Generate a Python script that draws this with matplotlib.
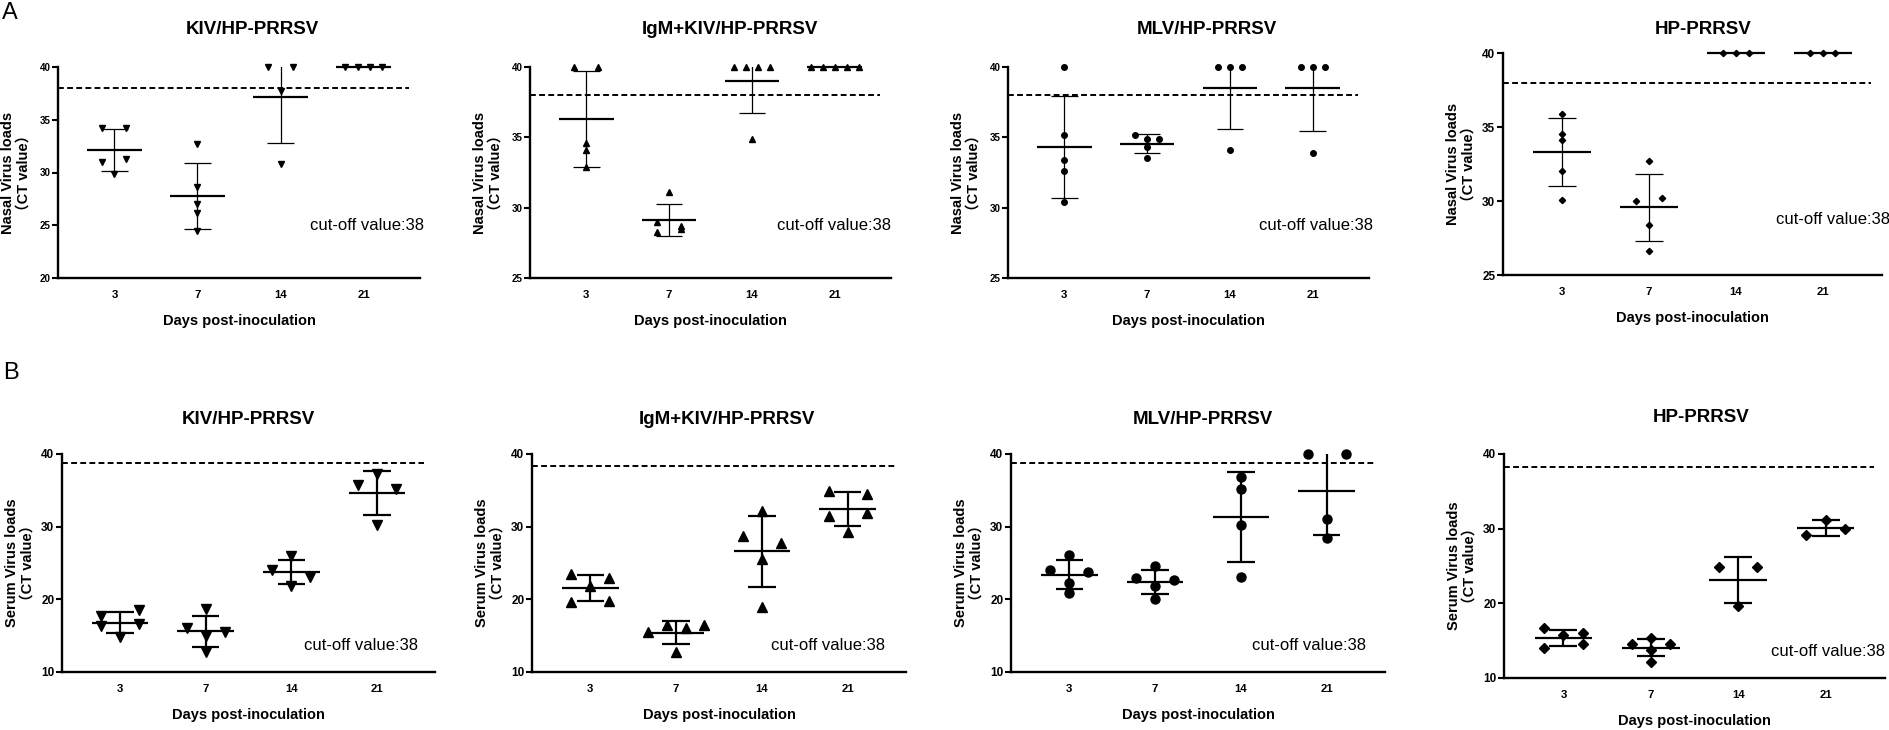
import numpy as np
import matplotlib
matplotlib.use("Agg")
import matplotlib.pyplot as plt

plt.rcParams['font.family'] = ['Liberation Sans', 'Noto Sans CJK SC', 'DejaVu Sans']

# ---- data (CT values) ----
days = ['3', '7', '14', '21']
groups = ['KIV/HP-PRRSV', 'IgM+KIV/HP-PRRSV', 'MLV/HP-PRRSV', 'HP-PRRSV']

# nasal swabs
nasal_kiv = [[34.2, 34.2, 31.0, 31.3, 29.9], [32.7, 28.6, 27.0, 26.2, 24.5],
             [40, 40, 37.7, 30.8], [40, 40, 40, 40]]
nasal_igm = [[40, 40, 34.6, 34.1, 32.9], [31.1, 29.0, 28.7, 28.3, 28.5],
             [40, 40, 40, 40, 34.9], [40, 40, 40, 40, 40]]
nasal_mlv = [[40, 35.2, 33.4, 32.6, 30.4], [35.2, 34.9, 34.9, 34.3, 33.5],
             [40, 40, 40, 34.1], [40, 40, 40, 33.9]]
nasal_hp = [[35.9, 34.5, 34.1, 32.0, 30.1], [32.7, 30.0, 30.2, 28.4, 26.6],
            [40, 40, 40], [40, 40, 40]]

# serum
serum_kiv = [[17.7, 18.6, 16.3, 16.6, 14.8], [18.7, 16.0, 15.0, 15.5, 12.7],
             [25.9, 24.1, 21.9, 23.1], [37.2, 35.7, 35.2, 30.2]]
serum_igm = [[23.5, 22.9, 21.9, 19.6, 19.8], [15.5, 16.4, 16.0, 16.4, 12.7],
             [32.1, 28.7, 27.7, 25.6, 19.0], [34.9, 34.5, 31.5, 31.9, 29.3]]
serum_mlv = [[24.0, 26.1, 23.7, 22.3, 20.9], [22.9, 24.6, 21.9, 22.7, 20.0],
             [36.9, 35.2, 30.2, 23.1], [40, 40, 31.1, 28.4]]
serum_hp = [[16.7, 15.7, 16.0, 14.0, 14.6], [14.5, 15.3, 14.5, 13.8, 12.2],
            [24.9, 24.9, 19.6], [31.2, 29.1, 30.0]]

cutoff_nasal = [38, 38, 38, 38]
cutoff_serum = [38.7, 38.3, 38.7, 38.2]

# ---- layout (pixels of the 1889x730 figure) ----
W, H = 1889, 730
boxes = [(58, 420, 67, 278), (530, 891, 67, 278), (1008, 1369, 67, 278), (1503, 1882, 53, 275),
         (62, 435, 454, 672), (532, 906, 454, 672), (1011, 1385, 454, 672), (1504, 1885, 454, 678)]
title_pos = [(252, 30), (730, 30), (1207, 30), (1703, 30),
             (248, 420), (727, 420), (1203, 420), (1701, 418)]
note_x = [1.01, 1.0, 1.01, 1.02, 0.955, 0.945, 0.95, 1.0]
markers = ['v', '^', 'o', 'D']


def spread(vals, thr, step):
    # GraphPad-like horizontal scatter of points with similar values
    vals = np.asarray(vals, float)
    order = np.argsort(-vals, kind='stable')
    off = np.zeros(len(vals))
    i = 0
    while i < len(order):
        row = [order[i]]
        j = i + 1
        while j < len(order) and vals[order[i]] - vals[order[j]] < thr:
            row.append(order[j])
            j += 1
        row.sort()
        n = len(row)
        pos = [-1, 1] if n == 2 else np.arange(n) - (n - 1) / 2
        for k, p in zip(row, pos):
            off[k] = p * step
        i = j
    return off


fig = plt.figure(figsize=(W / 100, H / 100), dpi=100)

panels = [nasal_kiv, nasal_igm, nasal_mlv, nasal_hp, serum_kiv, serum_igm, serum_mlv, serum_hp]
xlim = (-0.68, 3.68)

for p, data in enumerate(panels):
    serum = p >= 4
    l, r, t, b = boxes[p]
    ax = fig.add_axes([l / W, 1 - b / H, (r - l) / W, (b - t) / H])
    if serum:
        ylo, yhi, ystep = 10, 40, 10
        ms, mpx, step, lw_err, ylab = 6.5, 8.5, 0.22, 1.6, 'Serum Virus loads'
        cut = cutoff_serum[p - 4]
    else:
        ylo, yhi, ystep = (20 if p == 0 else 25), 40, 5
        ms, mpx, step, lw_err, ylab = 4.0, 5.0, 0.145, 0.9, 'Nasal Virus loads'
        cut = cutoff_nasal[p]
    thr = mpx * (yhi - ylo) / (b - t)
    mk = markers[p % 4]
    msize = ms * 0.8 if mk == 'D' else ms

    for i, vals in enumerate(data):
        v = np.array(vals, float)
        x = i + spread(v, thr, step)
        ax.plot(x, v, linestyle='none', marker=mk, ms=msize, color='black', clip_on=False, zorder=3)
        m = v.mean()
        sd = v.std(ddof=1) if len(v) > 1 else 0
        ax.hlines(m, i - 0.33, i + 0.33, color='black', lw=1.6, clip_on=False, zorder=2)
        if sd > 0:
            ax.vlines(i, m - sd, m + sd, color='black', lw=lw_err, zorder=2)
            ax.hlines([m - sd, m + sd], i - 0.16, i + 0.16, color='black', lw=lw_err, zorder=2)

    ax.axhline(cut, xmin=0, xmax=0.97, color='black', lw=1.4, linestyle=(0, (3, 1.7)), zorder=1)

    ax.set_xlim(*xlim)
    ax.set_ylim(ylo, yhi)
    ax.set_xticks(range(4))
    ax.set_xticklabels(days, fontweight='bold', fontsize=8.2)
    ax.set_yticks(np.arange(ylo, yhi + 1, ystep))
    ax.set_yticklabels([str(int(y)) for y in np.arange(ylo, yhi + 1, ystep)],
                       fontweight='bold', fontsize=(8.5 if p >= 3 else 7))
    ax.tick_params(axis='x', length=0, pad=9)
    ax.tick_params(axis='y', length=4, width=1.5, pad=1.5, direction='out')
    for s in ['top', 'right']:
        ax.spines[s].set_visible(False)
    for s in ['left', 'bottom']:
        ax.spines[s].set_linewidth(1.7)

    ax.text(note_x[p], 0.12 if serum else 0.25, 'cut-off value:38', transform=ax.transAxes,
            ha='right', va='center', fontsize=12, clip_on=False)

    tx, ty = title_pos[p]
    fig.text(tx / W, 1 - ty / H, groups[p % 4], ha='center', va='center',
             fontsize=13.5, fontweight='bold')
    fig.text((l + r) / 2 / W, 1 - (b + 43) / H, 'Days post-inoculation', ha='center',
             va='center', fontsize=10.5, fontweight='bold')
    fig.text((l - 42) / W, 1 - (t + b) / 2 / H, ylab + '\n（CT value）', rotation=90,
             ha='center', va='center', multialignment='center', linespacing=1.15,
             fontsize=10.5, fontweight='bold')

fig.text(10 / W, 1 - 13 / H, 'A', ha='center', va='center', fontsize=17)
fig.text(11 / W, 1 - 373 / H, 'B', ha='center', va='center', fontsize=17)

fig.savefig('out.png', dpi=100)
